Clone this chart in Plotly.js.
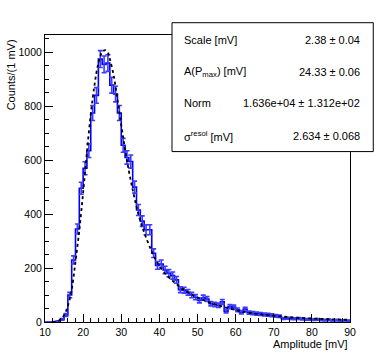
<!DOCTYPE html>
<html>
<head>
<meta charset="utf-8">
<script src="https://cdn.plot.ly/plotly-3.0.1.min.js"></script>
<style>
  html, body { margin: 0; padding: 0; background: #fff; }
  #hist { width: 381px; height: 359px; }
</style>
</head>
<body>
<div id="hist"></div>
<script>
HIST = document.getElementById('hist');

// counts per 1 mV bin, first bin starts at 10 mV
var firstEdge = 10;
var counts = [0,0,1,3,10,26,100,230,345,496,
              570,635,775,840,975,955,960,878,845,775,
              655,610,595,500,415,374,342,342,255,210,
              215,193,181,172,156,120,118,110,100,92,
              80,90,85,68,65,62,75,40,57,55,
              45,36,48,35,33,31,30,28,27,25,
              23,21,13,14,13,12,13,11,10,10,
              9,10,8,7,8,6,7,5,6,5];

// fitted curve (landau x gauss)
var fitX = [12,13,14,15,16,17,18,19,20,21,22,23,24,25,25.8,26.5,27,28,29,30,31,32,33,34,35,36,37,38,39,40,42,44,46,48,50,52,55,60,65,70,75,80,85,90];
var fitY = [0,2,8,25,60,120,225,340,480,630,770,880,960,1000,1008,998,975,915,825,730,640,560,490,428,375,332,295,262,232,207,172,146,124,106,91,79,64,44,31,23,17,13,10,8];

var statNames = ['Scale [mV]', 'A(P<sub>max</sub>) [mV]', 'Norm', '\u03c3<sup>resol</sup> [mV]'];
var statValues = ['2.38 \u00b1 0.04', '24.33 \u00b1 0.06', '1.636e+04 \u00b1 1.312e+02', '2.634 \u00b1 0.068'];

// step outline
var stepX = [], stepY = [];
for (let i = 0; i < counts.length; i++) {
    stepX.push(firstEdge + i);
    stepY.push(counts[i]);
}
stepX.push(firstEdge + counts.length);
stepY.push(counts[counts.length - 1]);

// error bar points (skip empty bins like ROOT does)
var errX = [], errY = [];
for (let i = 0; i < counts.length; i++) {
    if (counts[i] > 0) {
        errX.push(firstEdge + i + 0.5);
        errY.push(counts[i]);
    }
}

var data = [
    {
        x: stepX,
        y: stepY,
        type: 'scatter',
        mode: 'lines',
        line: {shape: 'hv', color: '#0000ff', width: 1.6},
        hoverinfo: 'skip'
    },
    {
        x: errX,
        y: errY,
        type: 'scatter',
        mode: 'markers',
        marker: {size: 1, color: '#2828ff'},
        error_y: {type: 'sqrt', color: '#3c3cff', thickness: 1.6, width: 2.5}
    },
    {
        x: fitX,
        y: fitY,
        type: 'scatter',
        mode: 'lines',
        line: {shape: 'spline', color: '#000', width: 1.8, dash: 'dot'}
    }
];

var F = 'Liberation Sans, Arial, Helvetica, sans-serif';
var rowsY = [0.9826, 0.871, 0.7616, 0.6485];
var annotations = [
    {xref: 'paper', yref: 'paper', x: 1, y: -0.075, xanchor: 'right', yanchor: 'middle',
     text: 'Amplitude [mV]', showarrow: false, font: {family: F, size: 11, color: '#000'}},
    {xref: 'paper', yref: 'paper', x: -0.112, y: 0.993, xanchor: 'center', yanchor: 'top',
     text: 'Counts/(1 mV)', textangle: -90, showarrow: false, font: {family: F, size: 11, color: '#000'}}
];
for (let i = 0; i < statNames.length; i++) {
    annotations.push({xref: 'paper', yref: 'paper', x: 0.449, y: rowsY[i], xanchor: 'left', yanchor: 'middle',
        text: statNames[i], showarrow: false, font: {family: F, size: 11, color: '#000'}});
    annotations.push({xref: 'paper', yref: 'paper', x: 1.0403, y: rowsY[i], xanchor: 'right', yanchor: 'middle',
        text: statValues[i], showarrow: false, font: {family: F, size: 11, color: '#000'}});
}

var layout = {
    width: 381,
    height: 359,
    margin: {l: 44.5, r: 31, t: 35, b: 37},
    paper_bgcolor: '#fff',
    plot_bgcolor: '#fff',
    showlegend: false,
    font: {family: F, size: 10, color: '#000'},
    xaxis: {
        range: [10, 90],
        dtick: 10,
        ticks: 'inside',
        ticklen: 8,
        tickcolor: '#000',
        showgrid: false,
        zeroline: false,
        showline: true,
        linecolor: '#000',
        linewidth: 1,
        mirror: true,
        tickfont: {family: F, size: 10.5},
        minor: {dtick: 2, ticks: 'inside', ticklen: 4, tickcolor: '#000', showgrid: false}
    },
    yaxis: {
        range: [0, 1064],
        dtick: 200,
        ticks: 'inside',
        ticklen: 8,
        tickcolor: '#000',
        showgrid: false,
        zeroline: false,
        showline: true,
        linecolor: '#000',
        linewidth: 1,
        mirror: true,
        tickfont: {family: F, size: 10.5},
        minor: {dtick: 50, ticks: 'inside', ticklen: 4, tickcolor: '#000', showgrid: false}
    },
    shapes: [{
        type: 'rect',
        xref: 'paper', yref: 'paper',
        x0: 0.4164, x1: 1.0763,
        y0: 0.5938, y1: 1.0428,
        fillcolor: '#fff',
        line: {color: '#000', width: 1},
        layer: 'above'
    }],
    annotations: annotations
};

var config = {staticPlot: true, displayModeBar: false};
Plotly.newPlot(HIST, data, layout, config);
</script>
</body>
</html>
